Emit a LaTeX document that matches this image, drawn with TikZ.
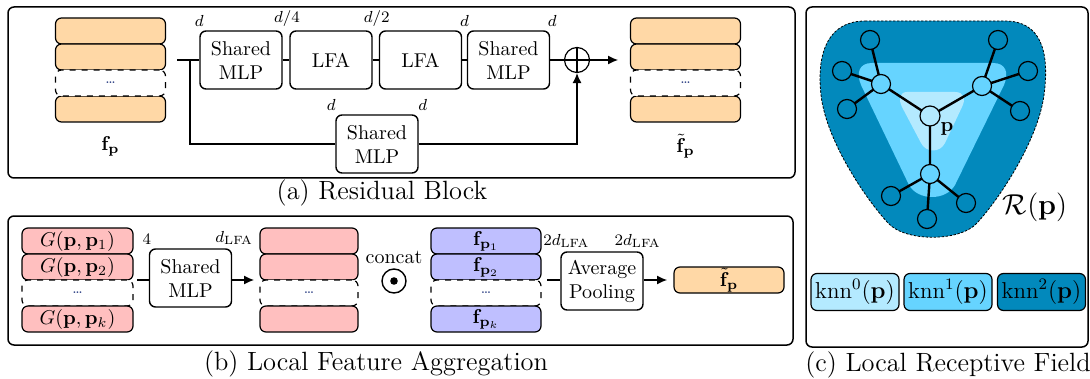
\documentclass[tikz,border=0pt]{standalone}
\usetikzlibrary{arrows.meta,calc}
\definecolor{peach}{RGB}{255,216,166}
\definecolor{pinkc}{RGB}{255,191,191}
\definecolor{lav}{RGB}{191,191,255}
\definecolor{dotblue}{RGB}{40,60,130}
\definecolor{rdark}{RGB}{2,137,188}
\definecolor{rmid}{RGB}{102,212,255}
\definecolor{rlight}{RGB}{180,234,255}
\begin{document}
\begin{tikzpicture}[x=0.5pt,y=-0.5pt,
  panel/.style={draw, line width=0.75pt, rounded corners=3pt},
  blk/.style={draw, line width=0.7pt, rounded corners=3pt, fill=white, align=center,
    minimum width=41pt, minimum height=29pt, inner sep=1pt},
  cell/.style={draw, line width=0.6pt, rounded corners=3pt, minimum height=13pt, inner sep=0pt},
  dcell/.style={cell, dashed, fill=white, font=\tiny\bfseries\color{dotblue}},
  conn/.style={line width=0.6pt},
  arr/.style={conn, -{Latex[length=5pt,width=4.5pt]}},
  dimlab/.style={font=\footnotesize, inner sep=0.5pt, anchor=south},
  captxt/.style={font=\fontsize{13.2}{16}\selectfont, inner sep=0pt},
  tnode/.style={circle, draw, line width=0.6pt, minimum size=9.5pt, inner sep=0pt},
  tedge/.style={line width=1.2pt},
  knn/.style={draw, line width=0.6pt, rounded corners=3pt, minimum width=44pt, minimum height=18.5pt, inner sep=0pt, font=\fontsize{11.5}{14}\selectfont}
]
\useasboundingbox (0,0) rectangle (1090,379);

% ---------------- panel (a)
\draw[panel] (8,7) rectangle (795,178);
\foreach \n/\y in {1/31,2/57,4/109}{
  \node[cell, fill=peach, minimum width=55pt] (fa\n) at (110.5,\y) {};
  \node[cell, fill=peach, minimum width=55pt] (ga\n) at (685.5,\y) {};
}
\node[dcell, minimum width=55pt] (fa3) at (110.5,83) {\dots};
\node[dcell, minimum width=55pt] (ga3) at (685.5,83) {\dots};
\node (fpl) at (110.5,146) {$\mathbf{f}_{\mathbf{p}}$};
\node (gpl) at (685.5,146) {$\tilde{\mathbf{f}}_{\mathbf{p}}$};

\node[blk] (sm1) at (241,60) {Shared\\MLP};
\node[blk] (lfa1) at (331,60) {LFA};
\node[blk] (lfa2) at (420.5,60) {LFA};
\node[blk] (sm2) at (508.5,60) {Shared\\MLP};
\node[blk] (sm3) at (377,144) {Shared\\MLP};
\node[circle, draw, line width=0.6pt, minimum size=12.5pt, inner sep=0pt] (plus) at (577,60) {};
\draw[line width=0.6pt] (plus.north) -- (plus.south) (plus.west) -- (plus.east);

\coordinate (ast) at (177,60);
\coordinate (abr) at (190,60);
\coordinate (aout) at (618,60);
\draw[conn] (ast) -- (sm1.west);
\draw[conn] (abr) |- (sm3.west);
\draw[conn] (sm1.east) -- (lfa1.west);
\draw[conn] (lfa1.east) -- (lfa2.west);
\draw[conn] (lfa2.east) -- (sm2.west);
\draw[conn] (sm2.east) -- (plus.west);
\draw[arr] (plus.east) -- (aout);
\draw[arr] (sm3.east) -| (plus.south);

\node[dimlab] (la1) at ([yshift=1pt]sm1.north west) {$d$};
\node[dimlab] (la2) at ($(sm1.north east)!0.5!(lfa1.north west)+(1,-2)$) {$d/4$};
\node[dimlab] (la3) at ($(lfa1.north east)!0.5!(lfa2.north west)+(1,-2)$) {$d/2$};
\node[dimlab] (la4) at ($(lfa2.north east)!0.5!(sm2.north west)+(0,-2)$) {$d$};
\node[dimlab] (la5) at ([xshift=1pt,yshift=1pt]sm2.north east) {$d$};
\node[dimlab] (la6) at ([xshift=-2pt,yshift=1pt]sm3.north west) {$d$};
\node[dimlab] (la7) at ([xshift=2pt,yshift=1pt]sm3.north east) {$d$};

\node[captxt] (capa) at (382,193) {(a) Residual Block};

% ---------------- panel (b)
\draw[panel] (8,216) rectangle (793,345);
\node[cell, fill=pinkc, minimum width=55.5pt] (gb1) at (77.5,241) {$G(\mathbf{p},\mathbf{p}_1)$};
\node[cell, fill=pinkc, minimum width=55.5pt] (gb2) at (77.5,267) {$G(\mathbf{p},\mathbf{p}_2)$};
\node[dcell, minimum width=55.5pt] (gb3) at (77.5,293) {\dots};
\node[cell, fill=pinkc, minimum width=55.5pt] (gb4) at (77.5,319) {$G(\mathbf{p},\mathbf{p}_k)$};

\node[cell, fill=pinkc, minimum width=49pt] (hb1) at (309,241) {};
\node[cell, fill=pinkc, minimum width=49pt] (hb2) at (309,267) {};
\node[dcell, minimum width=49pt] (hb3) at (309,293) {\dots};
\node[cell, fill=pinkc, minimum width=49pt] (hb4) at (309,319) {};

\node[cell, fill=lav, minimum width=55pt] (fb1) at (486,241) {$\mathbf{f}_{\mathbf{p}_1}$};
\node[cell, fill=lav, minimum width=55pt] (fb2) at (486,267) {$\mathbf{f}_{\mathbf{p}_2}$};
\node[dcell, minimum width=55pt] (fb3) at (486,293) {\dots};
\node[cell, fill=lav, minimum width=55pt] (fb4) at (486,319) {$\mathbf{f}_{\mathbf{p}_k}$};

\node[blk] (mlpb) at (190.5,278) {Shared\\MLP};
\node[blk] (avg) at (602,281) {Average\\Pooling};
\node[cell, fill=peach, minimum width=55pt] (outb) at (729,280) {$\tilde{\mathbf{f}}_{\mathbf{p}}$};

\node[circle, draw, line width=0.7pt, minimum size=12pt, inner sep=0pt] (odot) at (394,281) {};
\fill (odot.center) circle (1.9pt);
\node (concat) at (394,257) {concat};

\coordinate (bst) at (137,280);
\coordinate (bin) at (254,280);
\coordinate (cst) at (547,280);
\coordinate (cin) at (667,280);
\draw[conn] (bst) -- (mlpb.west |- bst);
\draw[arr] (mlpb.east |- bin) -- (bin);
\draw[conn] (cst) -- (avg.west |- cst);
\draw[arr] (avg.east |- cin) -- (cin);

\node[dimlab] (lb1) at ([xshift=-1pt,yshift=1pt]mlpb.north west) {$4$};
\node[dimlab] (lb2) at ([xshift=1pt,yshift=1pt]mlpb.north east) {$d_{\mathrm{LFA}}$};
\node[dimlab] (lb3) at ([xshift=3pt,yshift=1pt]avg.north west) {$2d_{\mathrm{LFA}}$};
\node[dimlab] (lb4) at ([xshift=-3pt,yshift=1pt]avg.north east) {$2d_{\mathrm{LFA}}$};

\node[captxt] (capb) at (376,364) {(b) Local Feature Aggregation};

% ---------------- panel (c)
\draw[panel] (806,7) rectangle (1088,347);
\path[fill=rdark, draw=black, line width=0.4pt, dash pattern=on 1.2pt off 0.8pt]
  (865,21) -- (1005,21)
  .. controls (1040,21) and (1050,50) .. (1044,95)
  .. controls (1038,140) and (1000,198) .. (977,223)
  .. controls (960,242) and (905,242) .. (888,223)
  .. controls (865,198) and (826,140) .. (821,95)
  .. controls (816,50) and (830,21) .. (865,21) -- cycle;
\path[fill=rmid]
  (872,63) -- (993,63)
  .. controls (1006,63) and (1009,73) .. (1004,85)
  -- (955,185) .. controls (946,201) and (918,201) .. (909,185)
  -- (861,85) .. controls (856,73) and (859,63) .. (872,63) -- cycle;
\path[fill=rlight]
  (907,92) -- (955,92)
  .. controls (964,92) and (966,99) .. (962,107)
  -- (945,143) .. controls (940,153) and (926,153) .. (921,143)
  -- (902,107) .. controls (898,99) and (900,92) .. (907,92) -- cycle;

\coordinate (pc) at (930,116);
\coordinate (ac) at (881,84);
\coordinate (bc) at (982,86);
\coordinate (cc) at (930,174);
\draw[tedge] (pc) -- (ac) (pc) -- (bc) (pc) -- (cc);
\draw[tedge] (ac) -- (870,40) (ac) -- (842,71) (ac) -- (847,109);
\draw[tedge] (bc) -- (998,40) (bc) -- (1028,71) (bc) -- (1020,111);
\draw[tedge] (cc) -- (891,196) (cc) -- (966,203) (cc) -- (927,219);

\node[tnode, fill=rlight, minimum size=10pt] (np) at (pc) {};
\node[tnode, fill=rmid] (na) at (ac) {};
\node[tnode, fill=rmid] (nb) at (bc) {};
\node[tnode, fill=rmid] (nc) at (cc) {};
\node[tnode, fill=rdark] (a1) at (870,40) {};
\node[tnode, fill=rdark] (a2) at (842,71) {};
\node[tnode, fill=rdark] (a3) at (847,109) {};
\node[tnode, fill=rdark] (b1) at (998,40) {};
\node[tnode, fill=rdark] (b2) at (1028,71) {};
\node[tnode, fill=rdark] (b3) at (1020,111) {};
\node[tnode, fill=rdark] (c1) at (891,196) {};
\node[tnode, fill=rdark] (c2) at (966,203) {};
\node[tnode, fill=rdark] (c3) at (927,219) {};
\node[inner sep=0pt] (plab) at (947,129) {$\mathbf{p}$};
\node[inner sep=0pt, font=\fontsize{13.5}{16}\selectfont] (rlab) at (1035,207) {$\mathcal{R}(\mathbf{p})$};

\node[knn, fill=rlight] (k0) at (855,292) {knn$^0(\mathbf{p})$};
\node[knn, fill=rmid] (k1) at (948,292) {knn$^1(\mathbf{p})$};
\node[knn, fill=rdark] (k2) at (1041.5,292) {knn$^2(\mathbf{p})$};

\node[captxt] (capc) at (948,365) {(c) Local Receptive Field};
\end{tikzpicture}
\end{document}
